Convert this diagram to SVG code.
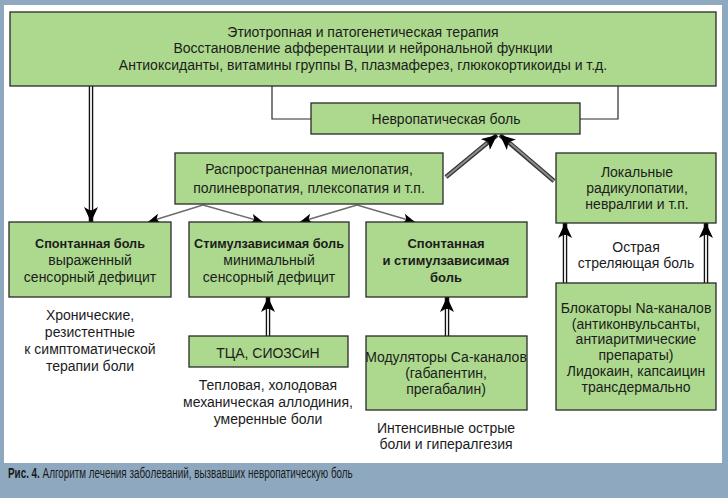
<svg xmlns="http://www.w3.org/2000/svg" width="728" height="498" viewBox="0 0 728 498">
<defs>
<style>
.box{fill:#acd98d;stroke:#2a2a2a;stroke-width:1.3}
.t{font-family:"Liberation Sans",Arial,sans-serif;font-size:14px;fill:#1c1c1c;text-anchor:middle}
.b{font-weight:bold;font-size:13px}
.cap{font-family:"Liberation Sans",Arial,sans-serif;font-size:14px;fill:#1a1a1a}
.thin{fill:none;stroke:#2a2a2a;stroke-width:1.2}
.dbl{fill:none;stroke:#111;stroke-width:4.5}
.dblin{fill:none;stroke:#fff;stroke-width:1.8}
.gry{fill:none;stroke:#333;stroke-width:4.5}
.gryin{fill:none;stroke:#8c8c8c;stroke-width:2.2}
.sm{fill:none;stroke:#6e6e6e;stroke-width:1.6}
</style>
<marker id="ah" markerUnits="userSpaceOnUse" markerWidth="16" markerHeight="14" refX="15" refY="7" orient="auto">
<path d="M0,0 L15,7 L0,14 L4,7 Z" fill="#000"/>
</marker>
<marker id="ahs" markerUnits="userSpaceOnUse" markerWidth="13" markerHeight="10" refX="12" refY="5" orient="auto">
<path d="M0,0 L12,5 L0,10 L3,5 Z" fill="#000"/>
</marker>
</defs>
<rect x="0" y="0" width="728" height="498" fill="#8ea9bf"/>
<rect x="4" y="5" width="718" height="458" fill="#ffffff"/>

<g id="connectors">
<path class="thin" d="M272,86 V119 H311"/>
<path class="thin" d="M618,86 V119 H580"/>
<path class="dbl" d="M91,86 V222" marker-end="url(#ah)"/>
<path class="dblin" d="M91,86 V210"/>
<path class="gry" d="M446,177 L497,135" marker-end="url(#ah)"/>
<path class="gryin" d="M446,177 L487,143"/>
<path class="gry" d="M554,181 L500,135" marker-end="url(#ah)"/>
<path class="gryin" d="M554,181 L510,143"/>
<path class="sm" d="M203,205 L148,222" marker-end="url(#ahs)"/>
<path class="sm" d="M203,205 L263,222" marker-end="url(#ahs)"/>
<path class="sm" d="M357,205 L300,222" marker-end="url(#ahs)"/>
<path class="sm" d="M357,205 L415,222" marker-end="url(#ahs)"/>
<path class="dbl" d="M268,336 V297" marker-end="url(#ah)"/>
<path class="dblin" d="M268,336 V309"/>
<path class="dbl" d="M447,336 V297" marker-end="url(#ah)"/>
<path class="dblin" d="M447,336 V309"/>
<path class="dbl" d="M565,283 V223" marker-end="url(#ah)"/>
<path class="dblin" d="M565,283 V235"/>
<path class="dbl" d="M706,283 V223" marker-end="url(#ah)"/>
<path class="dblin" d="M706,283 V235"/>
</g>

<g id="top">
<rect class="box" x="10" y="12" width="706" height="74"/>
<text class="t" x="363" y="37">Этиотропная и патогенетическая терапия</text>
<text class="t" x="363" y="53">Восстановление афферентации и нейрональной функции</text>
<text class="t" x="363" y="70">Антиоксиданты, витамины группы В, плазмаферез, глюкокортикоиды и т.д.</text>
</g>

<g id="neuro">
<rect class="box" x="311" y="103" width="269" height="31"/>
<text class="t" x="446" y="124">Невропатическая боль</text>
</g>

<g id="diffuse">
<rect class="box" x="175" y="153" width="268" height="51"/>
<text class="t" x="309" y="174">Распространенная миелопатия,</text>
<text class="t" x="309" y="193">полиневропатия, плексопатия и т.п.</text>
</g>

<g id="local">
<rect class="box" x="556" y="153" width="160" height="70"/>
<text class="t" x="637" y="177">Локальные</text>
<text class="t" x="637" y="193">радикулопатии,</text>
<text class="t" x="637" y="209">невралгии и т.п.</text>
</g>

<g id="spont">
<rect class="box" x="9" y="222" width="162" height="75"/>
<text class="t b" x="90" y="248" textLength="110" lengthAdjust="spacingAndGlyphs">Спонтанная боль</text>
<text class="t" x="90" y="265">выраженный</text>
<text class="t" x="90" y="282">сенсорный дефицит</text>
</g>

<g id="stim">
<rect class="box" x="189" y="222" width="160" height="75"/>
<text class="t b" x="269" y="248" textLength="150" lengthAdjust="spacingAndGlyphs">Стимулзависимая боль</text>
<text class="t" x="269" y="265">минимальный</text>
<text class="t" x="269" y="282">сенсорный дефицит</text>
</g>

<g id="both">
<rect class="box" x="366" y="222" width="161" height="75"/>
<text class="t b" x="446" y="248">Спонтанная</text>
<text class="t b" x="446" y="265">и стимулзависимая</text>
<text class="t b" x="446" y="282">боль</text>
</g>

<g id="tca">
<rect class="box" x="189" y="336" width="159" height="31"/>
<text class="t" x="268" y="358">ТЦА, СИОЗСиН</text>
</g>

<g id="ca">
<rect class="box" x="366" y="336" width="161" height="74"/>
<text class="t" x="446" y="362">Модуляторы Са-каналов</text>
<text class="t" x="446" y="378">(габапентин,</text>
<text class="t" x="446" y="394">прегабалин)</text>
</g>

<g id="na">
<rect class="box" x="556" y="283" width="160" height="127"/>
<text class="t" x="636" y="313">Блокаторы Na-каналов</text>
<text class="t" x="636" y="329">(антиконвульсанты,</text>
<text class="t" x="636" y="344">антиаритмические</text>
<text class="t" x="636" y="360">препараты)</text>
<text class="t" x="636" y="376">Лидокаин, капсаицин</text>
<text class="t" x="636" y="392">трансдермально</text>
</g>

<g id="notes">
<text class="t" x="90" y="320">Хронические,</text>
<text class="t" x="90" y="337">резистентные</text>
<text class="t" x="90" y="354">к симптоматической</text>
<text class="t" x="90" y="371">терапии боли</text>
<text class="t" x="268" y="390">Тепловая, холодовая</text>
<text class="t" x="268" y="407">механическая аллодиния,</text>
<text class="t" x="268" y="424">умеренные боли</text>
<text class="t" x="446" y="433">Интенсивные острые</text>
<text class="t" x="446" y="449">боли и гипералгезия</text>
<text class="t" x="636" y="252">Острая</text>
<text class="t" x="636" y="268">стреляющая боль</text>
</g>

<g id="caption" transform="translate(8,478) scale(0.705,1)">
<text class="cap" x="0" y="0"><tspan font-weight="bold">Рис. 4.</tspan> Алгоритм лечения заболеваний, вызвавших невропатическую боль</text>
</g>
</svg>
